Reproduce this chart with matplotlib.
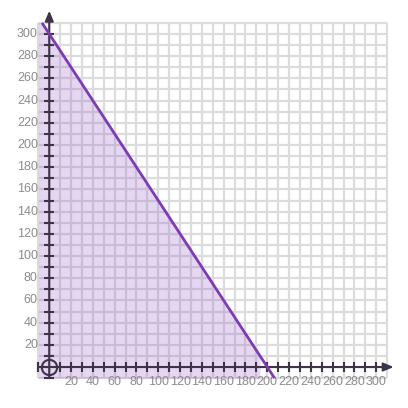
import numpy as np
import matplotlib.pyplot as plt

# inequality boundary: line through (0, 300) and (200, 0), shaded below
x_intercept = 200
y_intercept = 300
grid_vals = list(range(-10, 320, 10))
tick_vals = list(range(10, 310, 10))
label_vals = list(range(20, 320, 20))

grid_lo, grid_hi = -10, 310
slope = -y_intercept / x_intercept

fig = plt.figure(figsize=(4.08, 4.08), dpi=100)
ax = fig.add_axes([0, 0, 1, 1])
ax.set_xlim(-45.2, 329.1)
ax.set_ylim(-36.9, 330.6)
ax.axis('off')

# grid
ax.vlines(grid_vals, grid_lo, grid_hi, color='#dcdcdc', lw=1.6, zorder=1)
ax.hlines(grid_vals, grid_lo, grid_hi, color='#dcdcdc', lw=1.6, zorder=1)

# shaded region under the line
xs = np.linspace(grid_lo, x_intercept - grid_lo / slope, 200)
upper = np.minimum(grid_hi, y_intercept + slope * xs)
ax.fill_between(xs, grid_lo, upper, color='#8a4cc4', alpha=0.22, lw=0, zorder=2)

# boundary line
x_top = (grid_hi - y_intercept) / slope
x_bot = (grid_lo - y_intercept) / slope
ax.plot([x_top, x_bot], [grid_hi, grid_lo], color='#7d3cb4', lw=2.0,
        zorder=5, solid_capstyle='butt')

# axes with arrows
axc = '#3f3349'
ax.annotate('', xy=(316, 0), xytext=(-10, 0),
            arrowprops=dict(arrowstyle='-|>,head_length=0.6,head_width=0.25',
                            color=axc, lw=1.5, shrinkA=0, shrinkB=0), zorder=4)
ax.annotate('', xy=(0, 321), xytext=(0, -10),
            arrowprops=dict(arrowstyle='-|>,head_length=0.6,head_width=0.25',
                            color=axc, lw=1.5, shrinkA=0, shrinkB=0), zorder=4)
ax.plot(tick_vals, [0] * len(tick_vals), ls='none', marker='|', ms=7,
        mew=1.5, color=axc, zorder=4)
ax.plot([0] * len(tick_vals), tick_vals, ls='none', marker='_', ms=7,
        mew=1.5, color=axc, zorder=4)
ax.plot([0], [-10], marker='_', ms=7, mew=1.5, color=axc, zorder=4)
ax.plot([-10], [0], marker='|', ms=7, mew=1.5, color=axc, zorder=4)
ax.plot([0], [0], marker='o', ms=11, mfc='none', mew=1.5, color=axc, zorder=6)

# tick labels
for v in label_vals:
    ax.text(v, -8.5, str(v), ha='center', va='top', fontsize=9,
            color='#8c8c8c', family='Liberation Sans')
    ax.text(-10.5, v, str(v), ha='right', va='center', fontsize=9,
            color='#8c8c8c', family='Liberation Sans')

fig.savefig('out.png', dpi=100)
